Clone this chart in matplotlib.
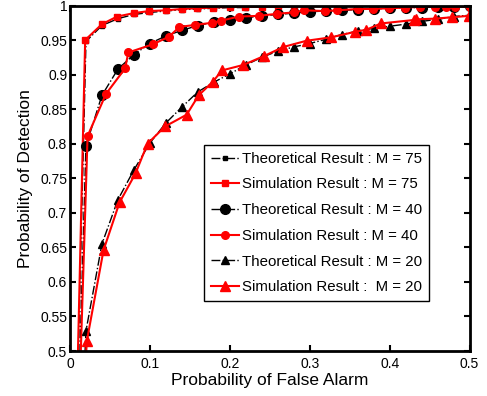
import matplotlib
matplotlib.use('Agg')
import matplotlib.pyplot as plt

plt.rcParams['font.family'] = ['Liberation Sans', 'DejaVu Sans']

# theoretical curves are on a fixed Pfa grid
pfa_theory = [0, 0.02, 0.04, 0.06, 0.08, 0.10, 0.12, 0.14, 0.16, 0.18, 0.20, 0.22, 0.24,
              0.26, 0.28, 0.30, 0.32, 0.34, 0.36, 0.38, 0.40, 0.42, 0.44, 0.46, 0.48, 0.50]

pd_theory_75 = [0, 0.948, 0.971, 0.981, 0.987, 0.990, 0.992, 0.994, 0.995, 0.996, 0.997, 0.997, 0.998,
                0.998, 0.998, 0.999, 0.999, 0.999, 0.999, 0.9993, 0.9995, 0.9996, 0.9997, 0.9998, 0.9999, 1.0]
pd_theory_40 = [0, 0.797, 0.870, 0.908, 0.929, 0.945, 0.956, 0.964, 0.971, 0.976, 0.979, 0.982, 0.985,
                0.987, 0.989, 0.991, 0.992, 0.993, 0.994, 0.995, 0.996, 0.997, 0.997, 0.998, 0.998, 0.999]
pd_theory_20 = [0, 0.529, 0.655, 0.719, 0.762, 0.801, 0.830, 0.853, 0.875, 0.889, 0.901, 0.914, 0.925,
                0.934, 0.940, 0.945, 0.951, 0.958, 0.963, 0.967, 0.970, 0.973, 0.977, 0.980, 0.984, 0.986]

# simulation curves (empirical Pfa)
pfa_sim_75 = [0, 0.019, 0.040, 0.059, 0.080, 0.099, 0.120, 0.140, 0.159, 0.179, 0.200, 0.219, 0.240,
              0.260, 0.280, 0.300, 0.320, 0.340, 0.360, 0.380, 0.400, 0.420, 0.440, 0.460, 0.480, 0.500]
pd_sim_75 = [0, 0.950, 0.973, 0.984, 0.989, 0.992, 0.993, 0.995, 0.996, 0.997, 0.998, 0.998, 0.998,
             0.999, 0.999, 0.999, 0.999, 0.9995, 0.9995, 0.9996, 0.9997, 0.9998, 0.9998, 0.9999, 0.9999, 1.0]

pfa_sim_40 = [0, 0.022, 0.045, 0.069, 0.073, 0.104, 0.124, 0.137, 0.157, 0.178, 0.189, 0.211, 0.236,
              0.259, 0.280, 0.293, 0.319, 0.334, 0.360, 0.379, 0.399, 0.419, 0.438, 0.457, 0.470, 0.482, 0.500]
pd_sim_40 = [0, 0.811, 0.872, 0.909, 0.932, 0.944, 0.955, 0.969, 0.972, 0.975, 0.978, 0.984, 0.985,
             0.988, 0.990, 0.993, 0.992, 0.993, 0.995, 0.995, 0.996, 0.997, 0.998, 0.998, 0.998, 0.998, 0.998]

pfa_sim_20 = [0, 0.021, 0.042, 0.062, 0.082, 0.097, 0.119, 0.146, 0.161, 0.179, 0.190, 0.217, 0.243,
              0.267, 0.296, 0.327, 0.357, 0.371, 0.389, 0.430, 0.433, 0.457, 0.478, 0.499]
pd_sim_20 = [0, 0.514, 0.646, 0.715, 0.757, 0.800, 0.825, 0.842, 0.870, 0.890, 0.906, 0.914, 0.927,
             0.940, 0.949, 0.954, 0.962, 0.965, 0.974, 0.979, 0.980, 0.981, 0.983, 0.985]

fig = plt.figure(figsize=(4.87, 3.96), dpi=100)
ax = fig.add_axes([0.1437, 0.1136, 0.8205, 0.8725])

ax.plot(pfa_theory, pd_theory_75, '-.', color='k', lw=1, marker='s', ms=3.5,
        label='Theoretical Result : M = 75')
ax.plot(pfa_sim_75, pd_sim_75, '-', color='r', lw=1.5, marker='s', ms=4.5,
        label='Simulation Result : M = 75')
ax.plot(pfa_theory, pd_theory_40, '-.', color='k', lw=1, marker='o', ms=7,
        label='Theoretical Result : M = 40')
ax.plot(pfa_sim_40, pd_sim_40, '-', color='r', lw=1.5, marker='o', ms=5.5,
        label='Simulation Result : M = 40')
ax.plot(pfa_theory, pd_theory_20, '-.', color='k', lw=1, marker='^', ms=5.5,
        label='Theoretical Result : M = 20')
ax.plot(pfa_sim_20, pd_sim_20, '-', color='r', lw=1.5, marker='^', ms=6.5,
        label='Simulation Result :  M = 20')

ax.set_xlim(0, 0.5)
ax.set_ylim(0.5, 1)
ax.set_xticks([0, 0.1, 0.2, 0.3, 0.4, 0.5])
ax.set_xticklabels(['0', '0.1', '0.2', '0.3', '0.4', '0.5'])
yt = [0.5, 0.55, 0.6, 0.65, 0.7, 0.75, 0.8, 0.85, 0.9, 0.95, 1]
ax.set_yticks(yt)
ax.set_yticklabels(['0.5', '0.55', '0.6', '0.65', '0.7', '0.75', '0.8', '0.85', '0.9', '0.95', '1'])
ax.tick_params(direction='in', top=True, right=True, length=4, width=1.5,
               labelsize=10, pad=2)
ax.tick_params(axis='x', pad=4)
for s in ax.spines.values():
    s.set_linewidth(2)

ax.set_xlabel('Probability of False Alarm', fontsize=12.5, labelpad=2)
ax.set_ylabel('Probability of Detection', fontsize=12.5, labelpad=5)

leg = ax.legend(loc='upper left', bbox_to_anchor=(204 / 487, 1 - 145 / 396),
                bbox_transform=fig.transFigure, fontsize=10.8, frameon=True,
                fancybox=False, framealpha=1, edgecolor='k', labelspacing=0.78,
                handlelength=1.87, handletextpad=0.2, borderpad=0.45, borderaxespad=0)
leg.get_frame().set_linewidth(1)

fig.savefig('out.png', dpi=100)
